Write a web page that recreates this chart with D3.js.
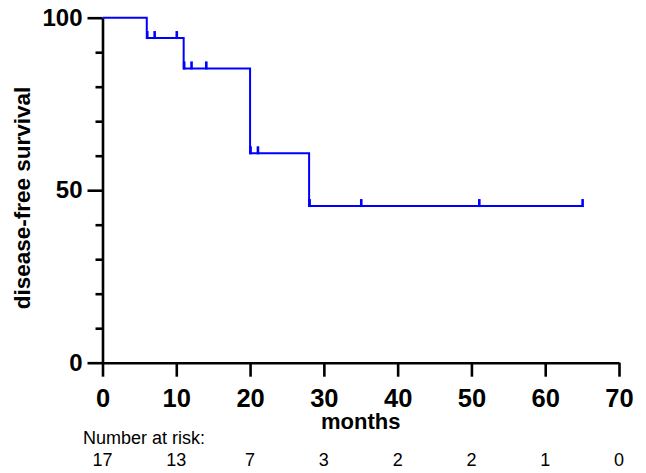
<!DOCTYPE html>
<html>

<head>
  <meta charset='utf-8'>
  <script src="https://cdn.jsdelivr.net/npm/d3@7"></script>
  <style>
    body { margin: 0; background: #fff; }
    text { font-family: "Liberation Sans", Arial, sans-serif; }
  </style>
</head>

<body>
</body>
<script>
  // Kaplan-Meier steps
  let stepTimes = [0, 6, 11, 20, 28]
  let stepSurvival = [100, 94.1, 85.3, 60.7, 45.4]
  let lastTime = 65
  let censorTimes = [6, 7, 10, 11, 12, 14, 20, 21, 28, 35, 51, 65]
  let riskTimes = [0, 10, 20, 30, 40, 50, 60, 70]
  let riskCounts = [17, 13, 7, 3, 2, 2, 1, 0]
  let xTicks = [0, 10, 20, 30, 40, 50, 60, 70]
  let yMajor = [0, 50, 100]
  let yMinor = [10, 20, 30, 40, 60, 70, 80, 90]

  let w = 646
  let h = 473
  let margin = { top: 17.7, right: 27, bottom: 110.3, left: 102.5 }

  let xScale = d3.scaleLinear()
    .domain([0, 70])
    .range([margin.left, w - margin.right])
  let yScale = d3.scaleLinear()
    .domain([0, 100])
    .range([h - margin.bottom, margin.top])

  let svg = d3.select('body')
    .append('svg')
    .attr('width', w)
    .attr('height', h)

  function survAt(t) {
    let s = stepSurvival[0]
    for (let i = 0; i < stepTimes.length; i++) {
      if (stepTimes[i] <= t) s = stepSurvival[i]
    }
    return s
  }

  // axes
  let xAxis = d3.axisBottom(xScale)
    .tickValues(xTicks)
    .tickSize(14)
    .tickSizeOuter(0)
    .tickPadding(12)
  let gx = svg.append('g')
    .attr('transform', 'translate(0,' + yScale(0) + ')')
    .call(xAxis)
  gx.selectAll('text')
    .attr('font-size', 25.5)
    .attr('font-weight', 'bold')
    .attr('font-family', '"Liberation Sans", Arial, sans-serif')
    .attr('fill', '#000')

  let yAxisMinor = d3.axisLeft(yScale)
    .tickValues(yMinor)
    .tickSize(7)
    .tickSizeOuter(0)
    .tickFormat('')
  let gyMinor = svg.append('g')
    .attr('transform', 'translate(' + xScale(0) + ',0)')
    .call(yAxisMinor)
  gyMinor.select('.domain').remove()

  let yAxis = d3.axisLeft(yScale)
    .tickValues(yMajor)
    .tickSize(15)
    .tickSizeOuter(0)
    .tickPadding(5)
  let gy = svg.append('g')
    .attr('transform', 'translate(' + xScale(0) + ',0)')
    .call(yAxis)
  gy.selectAll('text')
    .attr('font-size', 24)
    .attr('font-weight', 'bold')
    .attr('font-family', '"Liberation Sans", Arial, sans-serif')
    .attr('fill', '#000')

  svg.selectAll('.domain, .tick line')
    .attr('stroke', '#000')
    .attr('stroke-width', 2.6)

  // survival curve
  let pts = stepTimes.map((t, i) => [t, stepSurvival[i]])
  pts.push([lastTime, stepSurvival[stepSurvival.length - 1]])
  let line = d3.line()
    .x(d => xScale(d[0]))
    .y(d => yScale(d[1]))
    .curve(d3.curveStepAfter)
  svg.append('path')
    .datum(pts)
    .attr('d', line)
    .attr('fill', 'none')
    .attr('stroke', '#0000ff')
    .attr('stroke-width', 2)

  svg.selectAll('.censor')
    .data(censorTimes)
    .enter()
    .append('line')
    .attr('class', 'censor')
    .attr('x1', d => xScale(d) + 0.5)
    .attr('x2', d => xScale(d) + 0.5)
    .attr('y1', d => yScale(survAt(d)) + 1)
    .attr('y2', d => yScale(survAt(d)) - 7)
    .attr('stroke', '#0000ff')
    .attr('stroke-width', 2.6)

  // titles
  svg.append('text')
    .attr('x', xScale(35))
    .attr('y', 429)
    .attr('text-anchor', 'middle')
    .attr('font-size', 22)
    .attr('font-weight', 'bold')
    .text('months')

  svg.append('text')
    .attr('transform', 'translate(30,' + 198 + ') rotate(-90)')
    .attr('text-anchor', 'middle')
    .attr('font-size', 22.5)
    .attr('font-weight', 'bold')
    .text('disease-free survival')

  // number at risk
  svg.append('text')
    .attr('x', 83)
    .attr('y', 444)
    .attr('font-size', 18)
    .text('Number at risk:')

  svg.selectAll('.risk')
    .data(riskCounts)
    .enter()
    .append('text')
    .attr('class', 'risk')
    .attr('x', (d, i) => xScale(riskTimes[i]))
    .attr('y', 466)
    .attr('text-anchor', 'middle')
    .attr('font-size', 18)
    .text(d => d)
</script>

</html>
